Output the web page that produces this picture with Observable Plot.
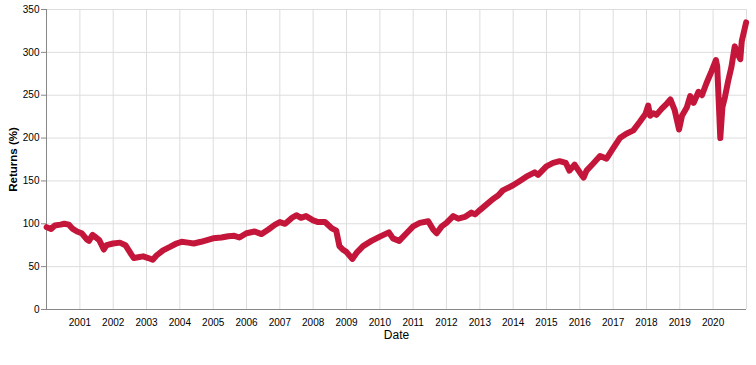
<!DOCTYPE html>
<html>
<head>
<meta charset="utf-8">
<script src="https://cdn.jsdelivr.net/npm/d3@7"></script>
<script src="https://cdn.jsdelivr.net/npm/@observablehq/plot@0.6"></script>
<style>
  html, body { margin: 0; padding: 0; background: #fff; }
  #chart svg { display: block; }
</style>
</head>
<body>
<div id="chart"></div>
<script>
const dates = [
  "2000-01-03","2000-02-20","2000-04-01","2000-06-01","2000-07-15","2000-09-01","2000-10-15","2000-12-01",
  "2001-01-20","2001-03-15","2001-04-10","2001-05-20","2001-06-15","2001-08-01","2001-09-20","2001-10-20","2001-12-31",
  "2002-03-15","2002-05-15","2002-07-20","2002-08-15","2002-10-01","2002-11-25",
  "2003-01-20","2003-03-10","2003-04-20","2003-07-01","2003-09-15","2003-11-25",
  "2004-01-20","2004-04-01","2004-06-01","2004-08-20","2004-12-31",
  "2005-04-01","2005-06-15","2005-08-20","2005-10-15","2005-12-31",
  "2006-04-01","2006-06-15","2006-08-25","2006-11-10",
  "2007-01-01","2007-02-28","2007-05-15","2007-07-01","2007-08-20","2007-10-15",
  "2008-01-01","2008-02-25","2008-05-10","2008-07-20","2008-09-10","2008-10-15","2008-11-20",
  "2009-01-01","2009-03-05","2009-04-20","2009-07-01","2009-10-01",
  "2010-01-01","2010-04-10","2010-05-25","2010-08-01","2010-10-20",
  "2011-01-01","2011-03-15","2011-06-15","2011-08-10","2011-09-15","2011-11-10",
  "2012-01-01","2012-03-15","2012-05-10","2012-07-20","2012-10-01","2012-11-10",
  "2013-01-01","2013-03-10","2013-05-25","2013-07-20","2013-09-10","2013-12-31",
  "2014-03-15","2014-05-25","2014-08-25","2014-10-01","2014-12-31",
  "2015-03-15","2015-05-25","2015-08-01","2015-09-10","2015-11-05",
  "2016-01-20","2016-02-12","2016-03-15","2016-05-25","2016-08-10","2016-10-20","2016-12-31",
  "2017-03-15","2017-05-25","2017-08-10","2017-10-20","2017-12-20",
  "2018-01-20","2018-02-10","2018-03-15","2018-04-20","2018-06-15","2018-08-10","2018-09-20","2018-11-05","2018-12-24",
  "2019-01-25","2019-03-20","2019-04-25","2019-06-01","2019-07-25","2019-09-01","2019-10-20","2019-12-15",
  "2020-02-01","2020-02-15","2020-03-20","2020-04-12","2020-05-10","2020-06-15","2020-07-20","2020-08-25",
  "2020-10-01","2020-10-25","2020-11-10","2020-12-28"
];
const returns = [
  96, 94, 98, 99, 100, 99, 94, 91,
  89, 82, 80, 87, 85, 81, 70, 75, 77,
  78, 75, 64, 60, 61, 62,
  60, 58, 63, 69, 73, 77,
  79, 78, 77, 79, 83,
  84, 85.5, 86, 84, 89,
  91, 88, 93, 99,
  102, 100, 107, 110, 107, 109,
  104, 102, 102, 95, 92, 74, 70,
  67, 59, 66, 74, 80,
  85, 90, 83, 80, 89,
  97, 101, 103, 93, 89, 97,
  101, 109, 106, 108, 113, 111,
  116, 122, 129, 133, 139, 145,
  150, 155, 160, 157, 167,
  171, 173, 171, 162, 169,
  157, 154, 162, 170, 179, 176, 188,
  200, 205, 209, 219, 228,
  238, 226, 229, 227, 234, 240, 245, 233, 210,
  226, 236, 249, 241, 254, 250, 264, 278,
  291, 284, 200, 236, 248, 267, 283, 307,
  297, 292, 313, 335
];
const yTicks = [0, 50, 100, 150, 200, 250, 300, 350];
const gridYears = [2000, 2001, 2002, 2003, 2004, 2005, 2006, 2007, 2008, 2009, 2010,
  2011, 2012, 2013, 2014, 2015, 2016, 2017, 2018, 2019, 2020, 2021];
const labelYears = [2001, 2002, 2003, 2004, 2005, 2006, 2007, 2008, 2009, 2010,
  2011, 2012, 2013, 2014, 2015, 2016, 2017, 2018, 2019, 2020];
const xTitle = "Date";
const yTitle = "Returns (%)";

const data = dates.map((d, i) => ({date: new Date(d + "T00:00:00Z"), value: returns[i]}));
const yr = (y) => new Date(Date.UTC(y, 0, 1));
const lineColor = "#c4163a";

const chart = Plot.plot({
  width: 756,
  height: 365,
  marginLeft: 46,
  marginRight: 10,
  marginTop: 9,
  marginBottom: 56,
  style: {fontFamily: "'Liberation Sans', Arial, sans-serif", fontSize: "10px", color: "#000", background: "#fff"},
  x: {type: "utc", domain: [yr(2000), yr(2021)]},
  y: {domain: [0, 350]},
  marks: [
    Plot.ruleY(yTicks, {stroke: "#ddd", strokeWidth: 1}),
    Plot.ruleX(gridYears.map(yr), {stroke: "#ddd", strokeWidth: 1}),
    Plot.ruleX([yr(2000)], {stroke: "#888", strokeWidth: 1}),
    Plot.ruleY([0], {stroke: "#888", strokeWidth: 1}),
    Plot.axisY({ticks: yTicks, tickSize: 5, tickPadding: 2, stroke: "#888", fill: "#000", label: null}),
    Plot.axisX({ticks: labelYears.map(yr), tickSize: 0, tickPadding: 9, tickFormat: d3.utcFormat("%Y"), fill: "#000", label: null}),
    Plot.line(data, {x: "date", y: "value", stroke: lineColor, strokeWidth: 6, strokeLinejoin: "round", strokeLinecap: "round"}),
    Plot.text([xTitle], {frameAnchor: "bottom", lineAnchor: "middle", textAnchor: "middle", dy: 26, text: d => d, fontWeight: "normal", fontSize: 12, fill: "#000"}),
    Plot.text([yTitle], {frameAnchor: "left", lineAnchor: "middle", textAnchor: "middle", dx: -33, rotate: -90, text: d => d, fontWeight: "bold", fontSize: 11.5, fill: "#000"})
  ]
});
document.getElementById("chart").appendChild(chart);
</script>
</body>
</html>
